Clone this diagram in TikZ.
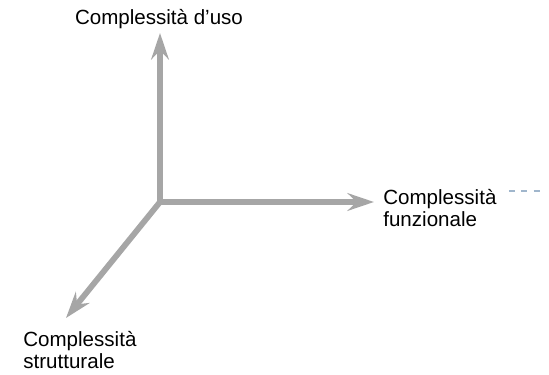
\documentclass[tikz,border=0pt]{standalone}
\usepackage{fontspec}
\setmainfont{Liberation Sans}
\usetikzlibrary{arrows.meta}
\definecolor{axisgray}{RGB}{166,166,166}
\definecolor{dashblue}{RGB}{160,182,204}

\begin{document}
\begin{tikzpicture}[x=0.02cm,y=-0.02cm,
	axis/.style={draw=axisgray, line width=3.3pt, line cap=rect, -{Stealth[length=15pt,width=10pt,inset=5pt]}},
	lbl/.style={inner sep=0pt, align=left, font=\fontsize{11.7}{12.7}\selectfont}]
			\useasboundingbox (0,0) rectangle (549,375);
			\coordinate (o) at (160,202);
			\coordinate (tipu) at (160,33);
			\coordinate (tipf) at (374,202);
			\coordinate (tips) at (66,318);
			\node[lbl, anchor=base] at (159,25) (uso) {Complessità d’uso};
			\node[lbl, anchor=base west] at (383,227) (funz) {Complessità\\funzionale};
			\node[lbl, anchor=base west] at (23,369) (strutt) {Complessità\\strutturale};
			\coordinate (d1) at (509,191);
			\coordinate (d2) at (543,191);
			
			\draw[axis] (o) -- (tipu);
			\draw[axis] (o) -- (tipf);
			\draw[axis] (o) -- (tips);
			\draw[dashblue, line width=1pt, dash pattern=on 3.5pt off 3.5pt] (d1) -- (d2);
			\end{tikzpicture}
\end{document}
